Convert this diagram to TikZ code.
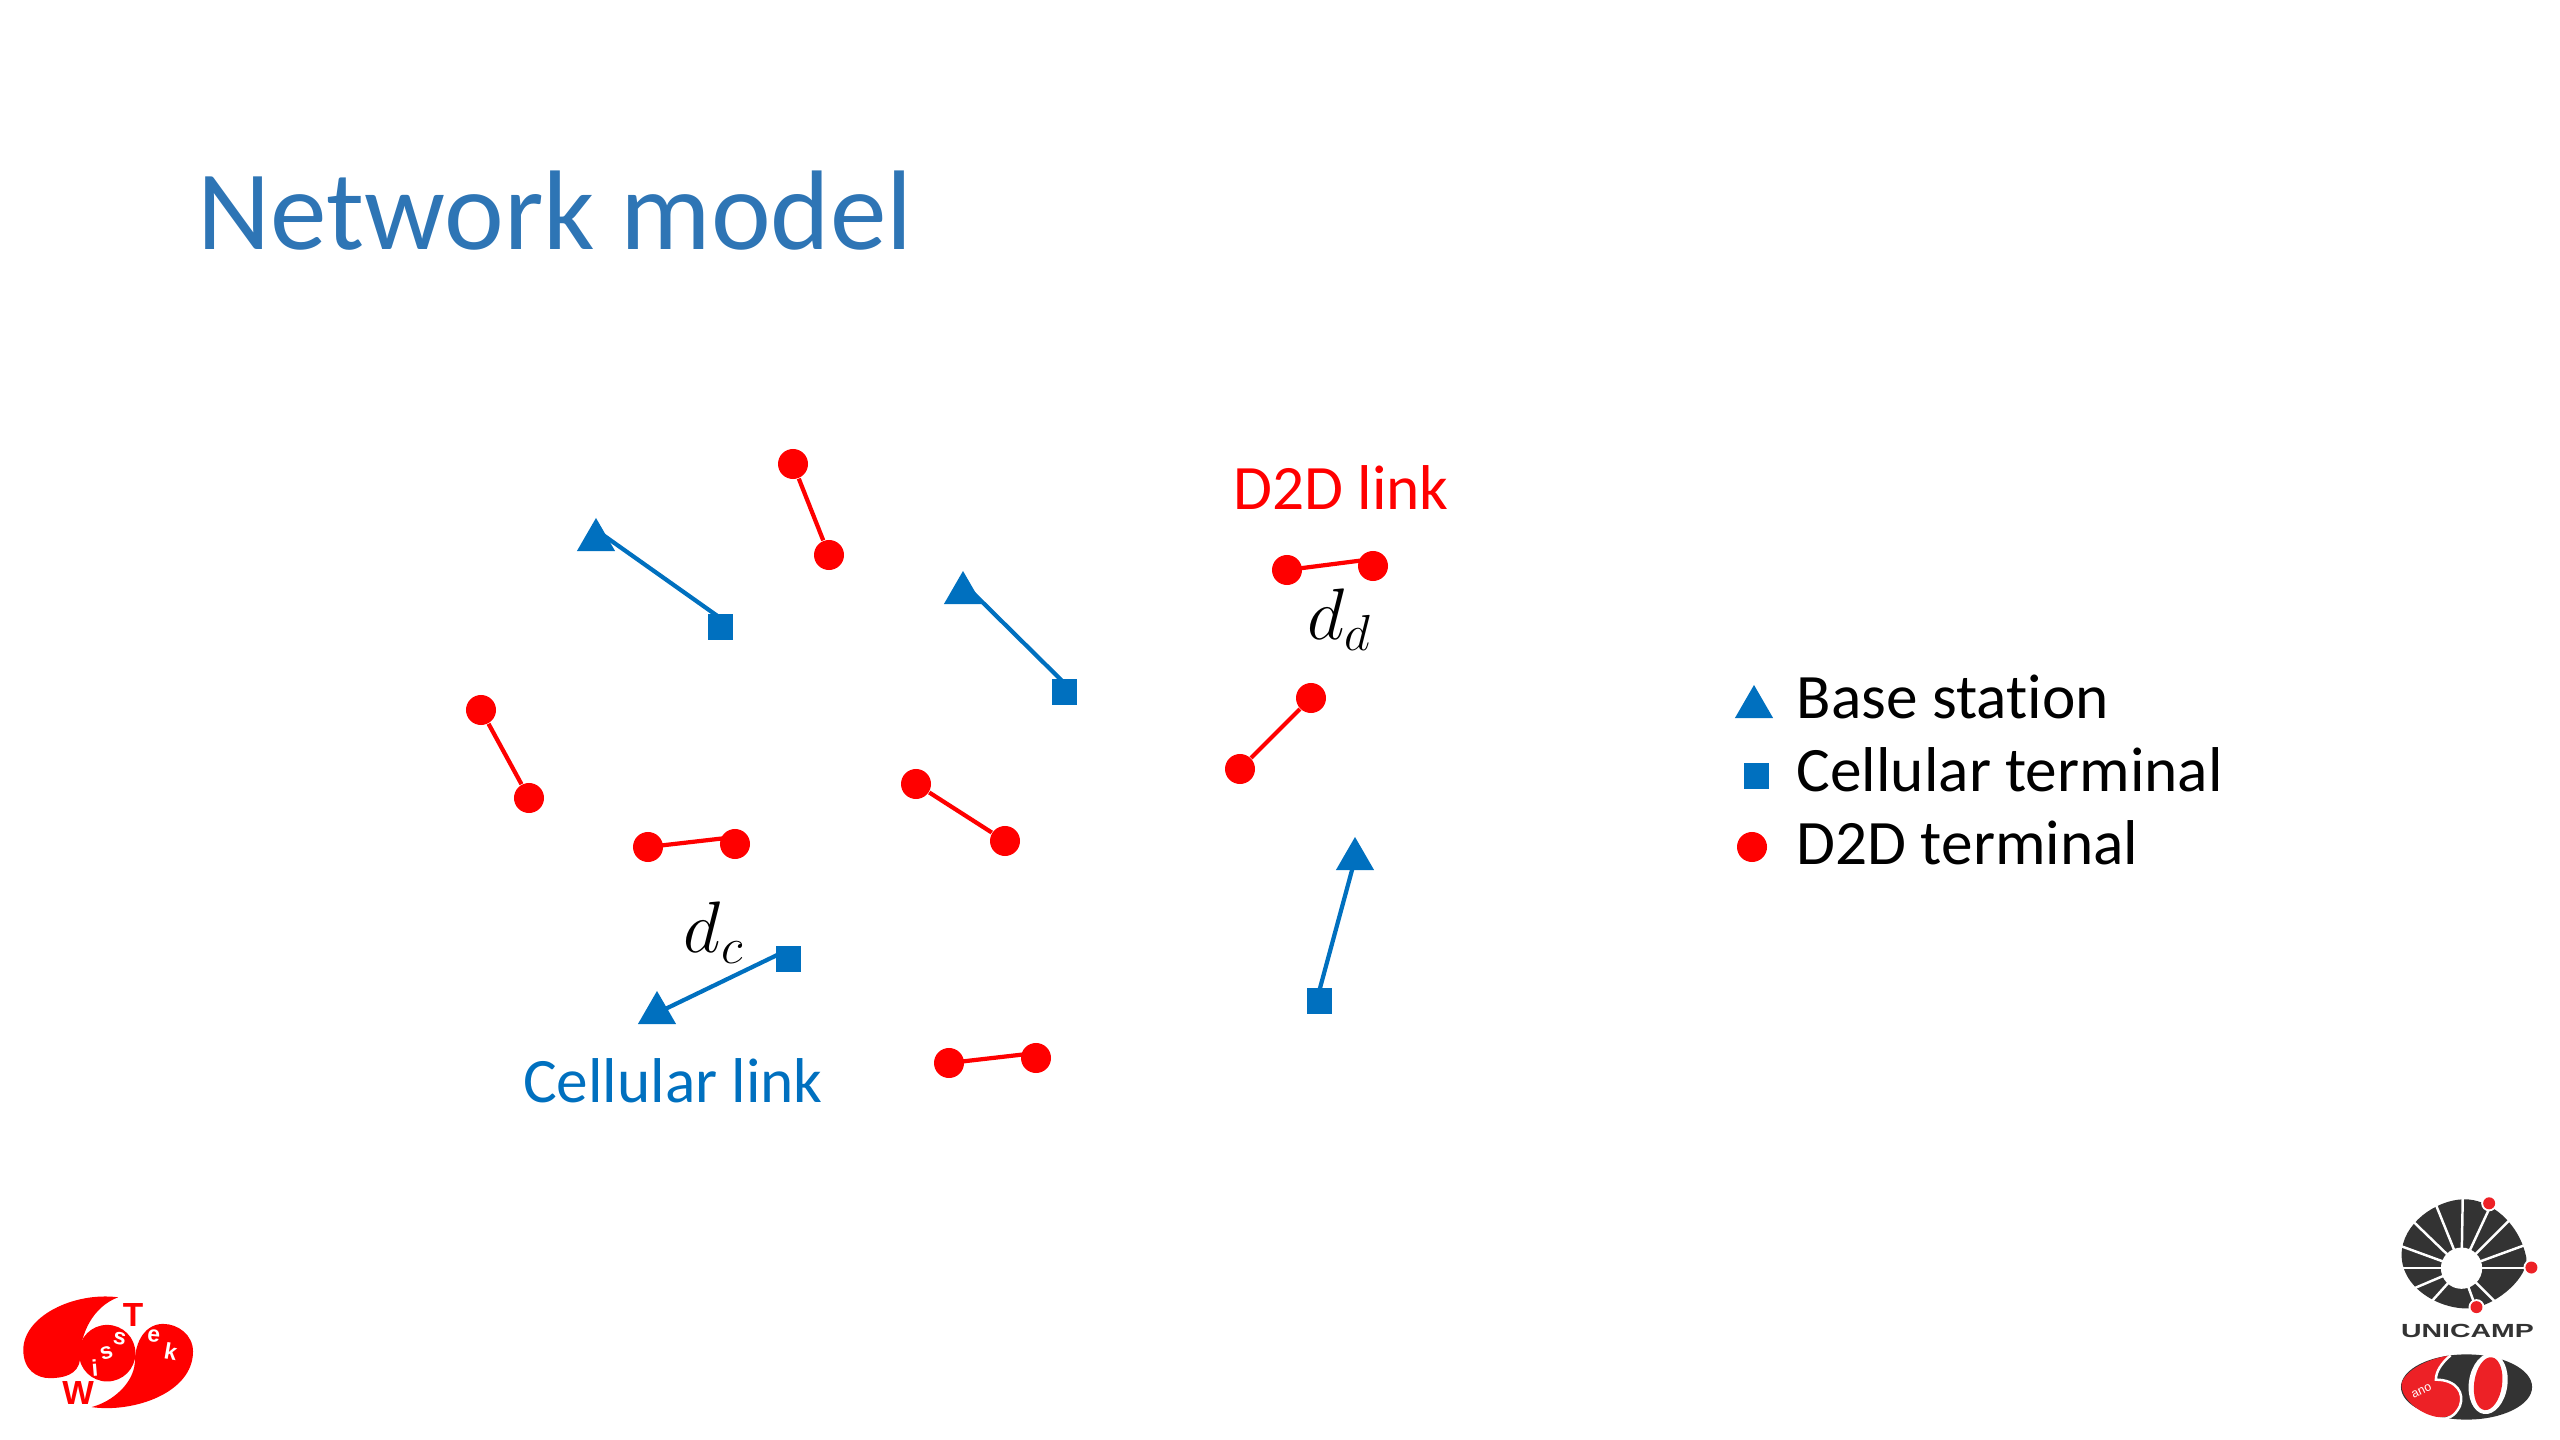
\documentclass[tikz,border=0pt]{standalone}
\usepackage{amsmath,amssymb}
\usepackage{fontspec}
\setmainfont[Ligatures=NoCommon]{Carlito}
\newfontfamily\logofont{Liberation Sans}
\usepackage{tikz}
\usepackage{xcolor}
\usetikzlibrary{positioning,shapes.geometric}
\definecolor{titleblue}{rgb}{0.18,0.46,0.71}
\definecolor{linkblue}{rgb}{0,0.44,0.75}
\definecolor{logogray}{rgb}{0.2,0.2,0.2}
\definecolor{logored}{rgb}{0.93,0.13,0.15}

\begin{document}
\begin{tikzpicture}[
  x=0.01cm,y=-0.01cm,
  every node/.style={inner sep=0pt},
  tower/.style={regular polygon, regular polygon sides=3, fill=linkblue, minimum size=0.44cm},
  terminal/.style={rectangle, fill=linkblue, minimum size=0.25cm},
  device/.style={circle, fill=red, minimum size=0.3cm},
  celllink/.style={draw=linkblue, line width=1.2pt},
  d2dlink/.style={draw=red, line width=1.2pt},
  legend/.style={anchor=base west, font=\fontsize{18}{20}\selectfont, text=black},
  linklabel/.style={font=\fontsize{18}{20}\selectfont},
  mathlabel/.style={font=\fontsize{20}{24}\selectfont, text=black},
  logoletter/.style={font=\logofont\bfseries\fontsize{6.5}{7}\selectfont, text=white},
  logocap/.style={font=\logofont\bfseries\fontsize{9.5}{10}\selectfont, text=red}
]
\useasboundingbox (0,0) rectangle (2560,1440);

\node[anchor=base west, text=titleblue, font=\fontsize{32.2}{36}\selectfont] (title) at (197,250) {Network model};

\node[tower] (bs1) at (596,540) {};
\node[terminal] (ct1) at (720,627) {};
\node[tower] (bs2) at (963,593) {};
\node[terminal] (ct2) at (1064,692) {};
\node[tower] (bs3) at (1355,859) {};
\node[terminal] (ct3) at (1319,1001) {};
\node[tower] (bs4) at (657,1013) {};
\node[terminal] (ct4) at (788,959) {};
\draw[celllink] ([yshift=0.1cm]bs1.center) -- ([yshift=-0.04cm]ct1.north);
\draw[celllink] ([yshift=0.1cm]bs2.center) -- ([yshift=-0.04cm]ct2.north);
\draw[celllink] (bs3.center) -- ([yshift=-0.04cm]ct3.north);
\draw[celllink] (bs4.center) -- ([yshift=-0.04cm]ct4.north);

\node[device] (ue1a) at (793,464) {};
\node[device] (ue1b) at (829,555) {};
\node[device] (ue2a) at (1287,570) {};
\node[device] (ue2b) at (1373,566) {};
\node[device] (ue3a) at (481,710) {};
\node[device] (ue3b) at (529,798) {};
\node[device] (ue4a) at (648,847) {};
\node[device] (ue4b) at (735,844) {};
\node[device] (ue5a) at (916,784) {};
\node[device] (ue5b) at (1005,841) {};
\node[device] (ue6a) at (1311,698) {};
\node[device] (ue6b) at (1240,769) {};
\node[device] (ue7a) at (949,1063) {};
\node[device] (ue7b) at (1036,1058) {};
\draw[d2dlink] (ue1a) -- (ue1b);
\draw[d2dlink] (ue2a.center) -- ([yshift=0.07cm]ue2b.center);
\draw[d2dlink] (ue3a) -- (ue3b);
\draw[d2dlink] (ue4a.center) -- ([yshift=0.07cm]ue4b.center);
\draw[d2dlink] (ue5a) -- (ue5b);
\draw[d2dlink] (ue6a) -- (ue6b);
\draw[d2dlink] (ue7a.center) -- ([yshift=0.05cm]ue7b.center);

\node[linklabel, text=red] (d2dlabel) at (1341,488) {D2D link};
\node[linklabel, text=linkblue] (celllabel) at (673,1081) {Cellular link};
\node[mathlabel] (dd) at (1340,620) {$d_d$};
\node[mathlabel] (dc) at (714,933) {$d_c$};

\node[tower] (keybs) at (1754,707) {};
\node[terminal] (keyct) at (1756,776) {};
\node[device] (keyue) at (1752,847) {};
\node[legend] (keybstext) at (1796,719) {Base station};
\node[legend] (keycttext) at (1796,791) {Cellular terminal};
\node[legend] (keyuetext) at (1796,864) {D2D terminal};

\begin{scope}[shift={(0,1260)},x=0.00333cm,y=-0.00333cm]
\fill[red] (355,112) .. controls (220,95) and (70,170) .. (70,270) .. controls (70,330) and (110,355) .. (150,355) .. controls (190,355) and (235,345) .. (240,300) .. controls (240,220) and (280,140) .. (355,112) -- cycle;
\fill[red] (275,442) .. controls (400,460) and (580,400) .. (580,275) .. controls (580,225) and (535,192) .. (490,192) .. controls (440,192) and (405,240) .. (405,310) .. controls (400,370) and (340,425) .. (275,442) -- cycle;
\fill[red] (322,280) circle (85);
\node[logocap] (logot) at (400,165) {T};
\node[logocap] (logow) at (235,400) {W};
\node[logoletter, rotate=5] (logoi) at (285,325) {i};
\node[logoletter, rotate=15] (logos) at (320,278) {s};
\node[logoletter, rotate=-10] (logoss) at (360,237) {s};
\node[logoletter, rotate=-5] (logoe) at (462,228) {e};
\node[logoletter, rotate=-10] (logok) at (513,275) {k};
\end{scope}

\begin{scope}[shift={(2360,1180)},x=0.00333cm,y=-0.00333cm]
\fill[logogray] (125,225) .. controls (125,130) and (230,60) .. (310,58) .. controls (390,55) and (480,130) .. (500,235) .. controls (505,290) and (420,370) .. (340,385) .. controls (250,395) and (125,330) .. (125,225) -- cycle;
\foreach \ang in {0,45,70,132,157,180,200,224,248,271,295,315,340}
  \draw[white, line width=0.7pt] (305,265) -- ++(\ang:230);
\fill[white] (305,265) circle (62);
\fill[white] (388,70) circle (24);
\fill[white] (515,263) circle (24);
\fill[white] (350,382) circle (24);
\fill[logored] (388,70) circle (18);
\fill[logored] (515,263) circle (18);
\fill[logored] (350,382) circle (18);
\node[font=\logofont\bfseries\fontsize{5.4}{6}\selectfont, text=logogray, xscale=1.5] (unicamp) at (323,455) {UNICAMP};
\fill[logogray] (320,622) ellipse (197 and 98);
\fill[white, rotate around={-8:(385,612)}] (385,612) ellipse (58 and 92);
\fill[logored, rotate around={-8:(385,612)}] (385,612) ellipse (42 and 80);
\fill[logored] (125,612) .. controls (135,570) and (210,535) .. (272,527) .. controls (245,550) and (228,575) .. (228,600) .. controls (290,600) and (315,640) .. (300,680) .. controls (285,710) and (250,720) .. (215,708) .. controls (170,695) and (120,650) .. (125,612) -- cycle;
\draw[white, line width=0.7pt] (272,527) .. controls (245,550) and (228,575) .. (228,600) .. controls (290,600) and (315,640) .. (300,680) .. controls (285,710) and (265,718) .. (245,718);
\node[font=\logofont\fontsize{3.5}{4}\selectfont, text=white, rotate=25] (ano) at (185,635) {ano};
\end{scope}
\end{tikzpicture}
\end{document}
